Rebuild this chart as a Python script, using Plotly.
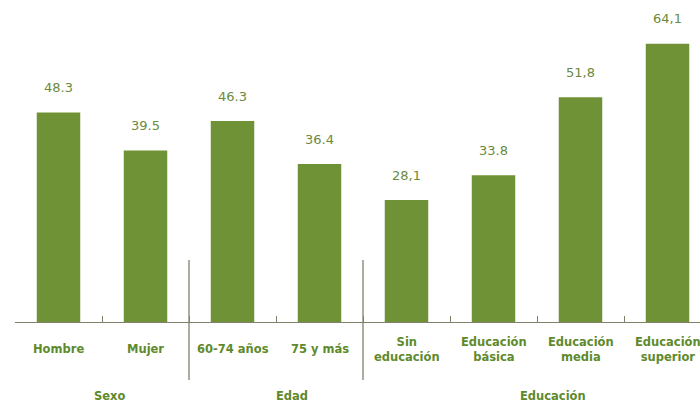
import plotly.graph_objects as go

# Data
categories = ["Hombre", "Mujer", "60-74 años", "75 y más",
              "Sin<br>educación", "Educación<br>básica", "Educación<br>media", "Educación<br>superior"]
values = [48.3, 39.5, 46.3, 36.4, 28.1, 33.8, 51.8, 64.1]
value_labels = ["48.3", "39.5", "46.3", "36.4", "28,1", "33.8", "51,8", "64,1"]
groups = ["Sexo", "Edad", "Educación"]

BAR = "#6f9236"
TEXT = "#5e8a2c"
VAL = "#6b8a3c"
AXIS = "#80806c"
FONT = "DejaVu Sans"

x = list(range(len(categories)))

fig = go.Figure()
fig.add_trace(go.Bar(x=x, y=values, marker=dict(color=BAR, line=dict(width=0)),
                     width=0.5, hoverinfo="skip"))

annotations = []
for xi, v, lab in zip(x, values, value_labels):
    annotations.append(dict(x=xi, y=v, xref="x", yref="y", text=lab, showarrow=False,
                            yanchor="middle", yshift=25,
                            font=dict(family=FONT, size=13, color=VAL)))

plot_h = 322.0
for xi, cat in zip(x, categories):
    annotations.append(dict(x=xi, y=(plot_h - 349) / plot_h, xref="x", yref="paper",
                            text="<b>" + cat + "</b>", showarrow=False, yanchor="middle",
                            font=dict(family=FONT, size=11.5, color=TEXT)))

# group captions
group_px = [92, 292, 588]
for g, px in zip(groups, group_px):
    annotations.append(dict(x=(px - 15) / 685.0, y=(plot_h - 396) / plot_h, xref="paper",
                            yref="paper", text="<b>" + g + "</b>", showarrow=False,
                            yanchor="middle",
                            font=dict(family=FONT, size=11.5, color=TEXT)))

shapes = []
for b in [1.5, 3.5]:
    shapes.append(dict(type="line", x0=b, x1=b, xref="x", yref="paper",
                       y0=(plot_h - 260) / plot_h, y1=(plot_h - 380) / plot_h,
                       line=dict(color=AXIS, width=1.3)))

fig.update_layout(
    width=700, height=404,
    margin=dict(l=15, r=0, t=0, b=404 - 322),
    paper_bgcolor="white", plot_bgcolor="white",
    showlegend=False,
    bargap=0.5,
    xaxis=dict(range=[-0.5, -0.5 + 685 / 87.0], showgrid=False, zeroline=False,
               showline=True, linecolor=AXIS, linewidth=1.3,
               tickvals=[0.5, 1.5, 2.5, 3.5, 4.5, 5.5, 6.5], ticktext=[""] * 7,
               ticks="inside", ticklen=6, tickcolor=AXIS, tickwidth=1),
    yaxis=dict(range=[0, 74.2], visible=False),
    annotations=annotations,
    shapes=shapes,
)

fig.write_html("out.html")
